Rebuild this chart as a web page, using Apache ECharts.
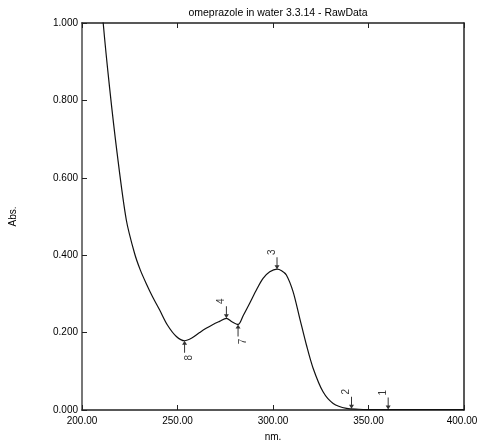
<!DOCTYPE html>
<html>
<head>
<meta charset="utf-8">
<script src="https://cdn.jsdelivr.net/npm/echarts@6/dist/echarts.min.js"></script>
<style>
  html, body { margin: 0; padding: 0; background: #fff; }
  #chart { width: 478px; height: 445px; }
</style>
</head>
<body>
<div id="chart"></div>
<script>
// spectrum (nm, absorbance)
const wavelength = [207, 211.1, 214.4, 218.4, 223.2, 227.5, 230.5, 233.6, 237, 240.6, 244.8, 249.4, 253.7, 257.5, 261.6, 265, 268.6, 272, 275.6, 278.5, 281.7, 284.5, 287.8, 291.5, 294.8, 298.3, 302.1, 304.5, 307, 310.5, 314, 317.5, 321, 326.2, 331.5, 338.5, 345, 352, 370, 400]
const absorbance = [1.25, 1.0, 0.835, 0.663, 0.491, 0.405, 0.362, 0.327, 0.292, 0.259, 0.219, 0.19, 0.179, 0.186, 0.2, 0.211, 0.221, 0.229, 0.237, 0.228, 0.221, 0.245, 0.276, 0.312, 0.34, 0.357, 0.364, 0.36, 0.349, 0.306, 0.237, 0.168, 0.108, 0.047, 0.017, 0.004, 0.002, 0.001, 0.001, 0.001]

// peak picks: arrows from above
const peakUpNames = ['1', '2', '3', '4']
const peakUpX = [360.3, 341.1, 302.1, 275.6]
const peakUpY = [0.001, 0.003, 0.364, 0.237]
// valley picks: arrows from below
const peakDownNames = ['7', '8']
const peakDownX = [281.7, 253.7]
const peakDownY = [0.221, 0.179]

const xTicks = [200, 250, 300, 350, 400]
const yTicks = [0, 0.2, 0.4, 0.6, 0.8, 1.0]

const chart = echarts.init(document.getElementById('chart'))

const font = 'Liberation Sans, Arial, sans-serif'
const arrowDown = 'path://M2,0 L3,0 L3,8 L5,8 L2.5,12 L0,8 L2,8 Z'
const arrowUp = 'path://M2,12 L3,12 L3,4 L5,4 L2.5,0 L0,4 L2,4 Z'
const xMax = xTicks[xTicks.length - 1]

const option = {
  animation: false,
  backgroundColor: '#fff',
  title: {
    text: 'omeprazole in water 3.3.14 - RawData',
    left: 273,
    top: 3,
    textAlign: 'center',
    textStyle: { fontFamily: font, fontSize: 10.5, fontWeight: 'normal', color: '#000' }
  },
  grid: { left: 82, right: 14, top: 23, bottom: 35, outerBoundsMode: 'none' },
  xAxis: [
    {
      type: 'value',
      min: xTicks[0],
      max: xMax,
      interval: 50,
      name: 'nm.',
      nameLocation: 'middle',
      nameGap: 22,
      nameTextStyle: { fontFamily: font, fontSize: 10, color: '#000' },
      axisLine: { onZero: false, lineStyle: { color: '#222', width: 1.5 } },
      axisTick: { inside: true, length: 5, lineStyle: { color: '#222' } },
      axisLabel: {
        fontFamily: font, fontSize: 10, color: '#000', margin: 6,
        // last label nudged so it stays inside the window
        formatter: v => v === xMax ? '{last|' + v.toFixed(2) + '}' : v.toFixed(2),
        rich: { last: { fontFamily: font, fontSize: 10, color: '#000', padding: [0, 4, 0, 0] } }
      },
      splitLine: { show: false }
    },
    {
      type: 'value',
      position: 'top',
      min: xTicks[0],
      max: xMax,
      interval: 50,
      axisLine: { show: true, onZero: false, lineStyle: { color: '#222', width: 1.5 } },
      axisTick: { inside: true, length: 5, lineStyle: { color: '#222' } },
      axisLabel: { show: false },
      splitLine: { show: false }
    }
  ],
  yAxis: [
    {
      type: 'value',
      min: yTicks[0],
      max: yTicks[yTicks.length - 1],
      interval: 0.2,
      name: 'Abs.',
      nameLocation: 'middle',
      nameGap: 64,
      nameRotate: 90,
      nameTextStyle: { fontFamily: font, fontSize: 10, color: '#000' },
      axisLine: { show: true, onZero: false, lineStyle: { color: '#777', width: 2 } },
      axisTick: { show: true, inside: true, length: 5, lineStyle: { color: '#222' } },
      axisLabel: {
        fontFamily: font, fontSize: 10, color: '#000', margin: 4,
        formatter: v => v.toFixed(3)
      },
      splitLine: { show: false }
    },
    {
      type: 'value',
      position: 'right',
      min: yTicks[0],
      max: yTicks[yTicks.length - 1],
      interval: 0.2,
      axisLine: { show: true, onZero: false, lineStyle: { color: '#222', width: 1.5 } },
      axisTick: { show: false },
      axisLabel: { show: false },
      splitLine: { show: false }
    }
  ],
  series: [
    {
      type: 'line',
      data: wavelength.map((w, i) => [w, absorbance[i]]),
      smooth: 0.3,
      showSymbol: false,
      clip: true,
      lineStyle: { color: '#111', width: 1.2 },
      z: 3
    },
    {
      type: 'scatter',
      data: peakUpX.map((x, i) => ({ value: [x, peakUpY[i]], name: peakUpNames[i] })),
      symbol: arrowDown,
      symbolSize: [5, 12],
      symbolOffset: [0, -6],
      itemStyle: { color: '#000' },
      label: {
        show: true,
        position: 'top',
        distance: 5,
        rotate: 90,
        formatter: p => p.name,
        fontFamily: font, fontSize: 10, color: '#000'
      },
      z: 4
    },
    {
      type: 'scatter',
      data: peakDownX.map((x, i) => ({ value: [x, peakDownY[i]], name: peakDownNames[i] })),
      symbol: arrowUp,
      symbolSize: [5, 12],
      symbolOffset: [0, 6],
      itemStyle: { color: '#000' },
      label: {
        show: true,
        position: 'bottom',
        distance: 5,
        rotate: 90,
        formatter: p => p.name,
        fontFamily: font, fontSize: 10, color: '#000'
      },
      z: 4
    }
  ]
}
option && chart.setOption(option)
</script>
</body>
</html>
